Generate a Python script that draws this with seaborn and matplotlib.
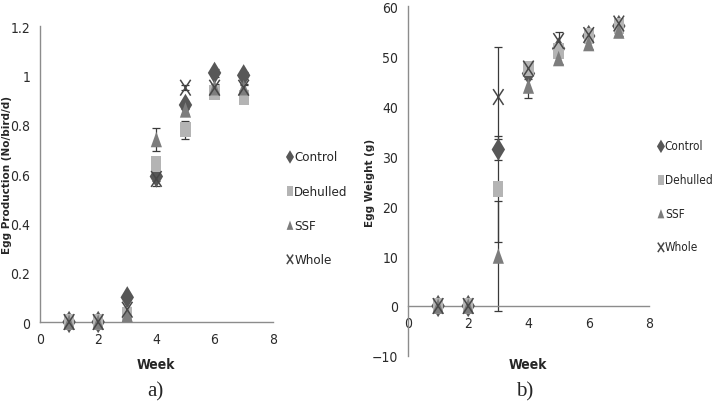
import numpy as np
import pandas as pd
import matplotlib
matplotlib.use("Agg")
import matplotlib.pyplot as plt
import seaborn as sns
from matplotlib.path import Path

# donnees
weeks = [1, 2, 3, 4, 5, 6, 7]
treatments = ["Control", "Dehulled", "SSF", "Whole"]

# a) production d'oeufs (No/bird/d)
prod_control = [0, 0, 0.10, 0.59, 0.88, 1.01, 1.00]
prod_dehulled = [0, 0, 0.03, 0.64, 0.78, 0.93, 0.91]
prod_ssf = [0, 0, 0.03, 0.74, 0.86, 0.95, 0.95]
prod_whole = [0, 0, 0.05, 0.58, 0.95, 0.95, 0.95]
prod_err_control = [0, 0, 0.01, 0.02, 0.015, 0.015, 0.015]
prod_err_dehulled = [0, 0, 0.01, 0.025, 0.037, 0.015, 0.015]
prod_err_ssf = [0, 0, 0.01, 0.045, 0.015, 0.015, 0.015]
prod_err_whole = [0, 0, 0.01, 0.03, 0.01, 0.01, 0.01]

# b) poids des oeufs (g)
wt_control = [0, 0, 31.3, 46.5, 51.5, 54.0, 56.0]
wt_dehulled = [0, 0, 23.4, 47.5, 51.0, 54.0, 56.0]
wt_ssf = [0, 0, 10.0, 44.0, 49.5, 52.5, 55.0]
wt_whole = [0, 0, 41.8, 47.5, 53.0, 54.2, 56.5]
wt_err_control = [0, 0, 2.1, 1, 1, 1, 1]
wt_err_dehulled = [0, 0, 10.6, 1, 1, 1, 1]
wt_err_ssf = [0, 0, 11.0, 2.4, 1, 1, 1]
wt_err_whole = [0, 0, 10.0, 1, 1.8, 1, 1]

df = pd.DataFrame({
    "Week": weeks * 4,
    "Treatment": np.repeat(treatments, len(weeks)),
    "Production": prod_control + prod_dehulled + prod_ssf + prod_whole,
    "ProdErr": prod_err_control + prod_err_dehulled + prod_err_ssf + prod_err_whole,
    "Weight": wt_control + wt_dehulled + wt_ssf + wt_whole,
    "WtErr": wt_err_control + wt_err_dehulled + wt_err_ssf + wt_err_whole,
})

# styles des marqueurs (formes etirees comme dans l'original)
rect = [(-0.33, -0.5), (0.33, -0.5), (0.33, 0.5), (-0.33, 0.5), (-0.33, -0.5)]
tri = [(-0.36, -0.5), (0.36, -0.5), (0.0, 0.5), (-0.36, -0.5)]
cross = Path([(-0.33, -0.5), (0.33, 0.5), (-0.33, 0.5), (0.33, -0.5)],
             [Path.MOVETO, Path.LINETO, Path.MOVETO, Path.LINETO])
markers = {"Control": "d", "Dehulled": rect, "SSF": tri, "Whole": cross}
colors = {"Control": "#575757", "Dehulled": "#b4b4b4", "SSF": "#7d7d7d", "Whole": "#474747"}
sizes = {"Control": 130, "Dehulled": 125, "SSF": 125, "Whole": 130}

sns.set_style("white")
plt.rcParams["font.family"] = ["DejaVu Sans"]
plt.rcParams["font.stretch"] = "condensed"

fig = plt.figure(figsize=(7.14, 4.06), dpi=100)
ax1 = fig.add_axes([0.056, 0.2044, 0.326, 0.729])
ax2 = fig.add_axes([0.5714, 0.1207, 0.3375, 0.862])

axis_col = "#8c8c8c"


def draw_panel(ax, ycol, ecol):
    for t in treatments:
        d = df[df["Treatment"] == t]
        ax.errorbar(d["Week"], d[ycol], yerr=d[ecol], fmt="none", ecolor="#3a3a3a",
                    elinewidth=0.9, capsize=3, capthick=0.9, zorder=2, clip_on=False)
    for t in treatments:
        d = df[df["Treatment"] == t]
        if t == "Whole":
            sns.scatterplot(x=d["Week"], y=d[ycol], ax=ax, marker=markers[t], s=sizes[t],
                            facecolor="none", edgecolor=colors[t], linewidth=1.1,
                            label=t, zorder=3, clip_on=False)
        else:
            sns.scatterplot(x=d["Week"], y=d[ycol], ax=ax, marker=markers[t], s=sizes[t],
                            color=colors[t], edgecolor="none", linewidth=0,
                            label=t, zorder=3, clip_on=False)
    for s in ["top", "right"]:
        ax.spines[s].set_visible(False)
    for s in ["left", "bottom"]:
        ax.spines[s].set_color(axis_col)
        ax.spines[s].set_linewidth(1.0)
    ax.tick_params(axis="both", direction="out", length=4, width=0.8, color=axis_col,
                   labelsize=10, labelcolor="#2a2a2a", pad=3)
    ax.set_xlim(0, 8)
    ax.set_xticks([0, 2, 4, 6, 8])
    ax.set_xlabel("")
    ax.set_ylabel("")


draw_panel(ax1, "Production", "ProdErr")
ax1.set_ylim(0, 1.2)
ax1.set_yticks([0, 0.2, 0.4, 0.6, 0.8, 1, 1.2])
ax1.set_yticklabels(["0", "0.2", "0.4", "0.6", "0.8", "1", "1.2"])

draw_panel(ax2, "Weight", "WtErr")
ax2.set_ylim(-10, 60)
ax2.set_yticks(range(-10, 61, 10))
ax2.spines["bottom"].set_position(("data", 0))

# titres des axes
fig.text(0.0095, 0.57, "Egg Production (No/bird/d)", rotation=90, ha="center", va="center",
         fontsize=7.5, fontweight="bold", stretch="normal")
fig.text(0.518, 0.55, "Egg Weight (g)", rotation=90, ha="center", va="center",
         fontsize=7.5, fontweight="bold", stretch="normal")
fig.text(0.219, 0.101, "Week", ha="center", va="center", fontsize=10, fontweight="bold")
fig.text(0.740, 0.101, "Week", ha="center", va="center", fontsize=10, fontweight="bold")
fig.text(0.217, 0.035, "a)", ha="center", va="center", fontsize=15, family="Liberation Serif")
fig.text(0.735, 0.035, "b)", ha="center", va="center", fontsize=15, family="Liberation Serif")

for ax, anchor, fs in [(ax1, (0.402, 0.627), 9.5), (ax2, (0.922, 0.654), 8.5)]:
    ax.legend(loc="upper left", bbox_to_anchor=anchor, bbox_transform=fig.transFigure,
              frameon=False, fontsize=fs, markerscale=0.6, handlelength=0.45,
              handletextpad=0.1, labelspacing=1.75 if fs < 9 else 1.6,
              borderpad=0, borderaxespad=0)

fig.savefig("out.png", dpi=100)
